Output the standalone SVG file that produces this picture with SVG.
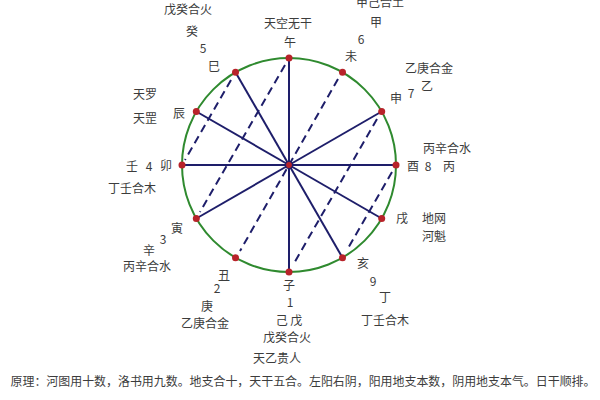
<svg xmlns="http://www.w3.org/2000/svg" width="600" height="400" viewBox="0 0 600 400">
<style>
text{font-family:"Noto Sans CJK SC","Liberation Sans",sans-serif;font-size:12px;fill:#3c3c3c;text-anchor:middle}
.solid{stroke:#1e1e6a;stroke-width:2;fill:none}
.dash{stroke:#1e1e6a;stroke-width:2;fill:none;stroke-dasharray:8 5}
.dot{fill:#b8232a}
</style>
<rect width="600" height="400" fill="#ffffff"/>
<circle id="ring" cx="289" cy="165" r="107" fill="none" stroke="#2f8a2f" stroke-width="2"/>
<g id="connectors">
<line class="solid" x1="289" y1="165" x2="289" y2="58"/>
<line class="solid" x1="289" y1="165" x2="235.5" y2="72.3"/>
<line class="solid" x1="289" y1="165" x2="196.3" y2="111.5"/>
<line class="solid" x1="289" y1="165" x2="182" y2="165"/>
<line class="solid" x1="289" y1="165" x2="196.3" y2="218.5"/>
<line class="solid" x1="289" y1="165" x2="381.7" y2="111.5"/>
<line class="solid" x1="289" y1="165" x2="396" y2="165"/>
<line class="solid" x1="289" y1="165" x2="381.7" y2="218.5"/>
<line class="solid" x1="289" y1="165" x2="342.5" y2="257.7"/>
<line class="solid" x1="289" y1="165" x2="289" y2="272"/>
<line class="dash" x1="231" y1="80" x2="185" y2="160"/>
<line class="dash" x1="285" y1="65" x2="200" y2="212"/>
<line class="dash" x1="338" y1="79" x2="240" y2="251"/>
<line class="dash" x1="377" y1="119" x2="293" y2="265"/>
<line class="dash" x1="392" y1="172" x2="347" y2="250"/>
</g>
<g id="points">
<circle class="dot" cx="289" cy="58" r="3.5"/>
<circle class="dot" cx="342.5" cy="72.3" r="3.5"/>
<circle class="dot" cx="381.7" cy="111.5" r="3.5"/>
<circle class="dot" cx="396" cy="165" r="3.5"/>
<circle class="dot" cx="381.7" cy="218.5" r="3.5"/>
<circle class="dot" cx="342.5" cy="257.7" r="3.5"/>
<circle class="dot" cx="289" cy="272" r="3.5"/>
<circle class="dot" cx="235.5" cy="257.7" r="3.5"/>
<circle class="dot" cx="196.3" cy="218.5" r="3.5"/>
<circle class="dot" cx="182" cy="165" r="3.5"/>
<circle class="dot" cx="196.3" cy="111.5" r="3.5"/>
<circle class="dot" cx="235.5" cy="72.3" r="3.5"/>
<circle id="center" cx="289" cy="165" r="3.5" fill="#b8232a" stroke="#1e1e6a" stroke-width="1.2"/>
</g>
<g id="labels">
<text x="188" y="14">戊癸合火</text>
<text x="192" y="36">癸</text>
<text x="203" y="53">5</text>
<text x="214" y="71">巳</text>
<text x="288" y="28">天空无干</text>
<text x="290" y="47">午</text>
<text x="380" y="7">甲己合土</text>
<text x="376" y="27">甲</text>
<text x="361" y="44">6</text>
<text x="351" y="61">未</text>
<text x="429" y="73">乙庚合金</text>
<text x="427" y="91">乙</text>
<text x="411" y="98">7</text>
<text x="396" y="103">申</text>
<text x="145" y="99">天罗</text>
<text x="145" y="123">天罡</text>
<text x="179" y="118">辰</text>
<text x="132" y="171">壬</text>
<text x="149" y="171">4</text>
<text x="166" y="170">卯</text>
<text x="132" y="193">丁壬合木</text>
<text x="447" y="153">丙辛合水</text>
<text x="413" y="171">酉</text>
<text x="428" y="171">8</text>
<text x="449" y="171">丙</text>
<text x="402" y="223">戌</text>
<text x="434" y="223">地网</text>
<text x="434" y="241">河魁</text>
<text x="363" y="268">亥</text>
<text x="177" y="233">寅</text>
<text x="163" y="244">3</text>
<text x="149" y="255">辛</text>
<text x="147" y="271">丙辛合水</text>
<text x="224" y="280">丑</text>
<text x="217" y="293">2</text>
<text x="207" y="311">庚</text>
<text x="205" y="328">乙庚合金</text>
<text x="289" y="290">子</text>
<text x="290" y="307">1</text>
<text x="373" y="286">9</text>
<text x="385" y="302">丁</text>
<text x="385" y="325">丁壬合木</text>
<text x="289" y="325">己 戊</text>
<text x="287" y="342">戊癸合火</text>
<text x="277" y="363">天乙贵人</text>
<text x="303" y="386" textLength="585" lengthAdjust="spacingAndGlyphs">原理：河图用十数，洛书用九数。地支合十，天干五合。左阳右阴，阳用地支本数，阴用地支本气。日干顺排。</text>
</g>
</svg>
